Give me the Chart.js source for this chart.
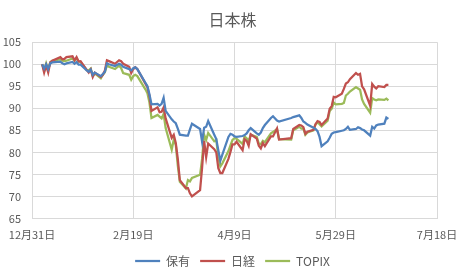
<!DOCTYPE html>
<html><head><meta charset="utf-8">
<script src="https://cdn.jsdelivr.net/npm/chart.js@4/dist/chart.umd.min.js"></script>
<style>html,body{margin:0;padding:0;background:#fff}</style>
</head><body>
<canvas id="c" width="462" height="269"></canvas>
<script>
// Dates (2020, M/D)
const dates = [
 "1/5","1/6","1/7","1/8","1/9","1/10","1/14","1/15","1/16","1/17","1/20","1/21","1/22","1/23","1/24","1/27","1/28","1/29","1/30","1/31",
 "2/3","2/4","2/5","2/6","2/7","2/10","2/12","2/13","2/14","2/17","2/18","2/19","2/20","2/21","2/25","2/26","2/27","2/28",
 "3/2","3/3","3/4","3/5","3/6","3/9","3/10","3/11","3/12","3/13","3/16","3/17","3/18","3/19","3/23","3/24","3/25","3/26","3/27","3/30","3/31",
 "4/1","4/2","4/3","4/6","4/7","4/8","4/9","4/10","4/13","4/14","4/15","4/16","4/17","4/20","4/21","4/22","4/23","4/24","4/27","4/28","4/30",
 "5/1","5/7","5/8","5/11","5/12","5/13","5/14","5/15","5/18","5/19","5/20","5/21","5/22","5/25","5/26","5/27","5/28","5/29",
 "6/1","6/2","6/3","6/4","6/5","6/8","6/9","6/10","6/11","6/12","6/15","6/16","6/17","6/18","6/19","6/22","6/23","6/24"
];
const holding = [
 100,99.0,100.0,98.9,100.2,100.4,100.6,100.2,100.0,100.2,100.5,100.1,100.5,99.9,99.9,98.6,98.3,98.8,97.6,98.1,
 97.3,97.8,98.3,100.2,100.0,99.6,100.1,99.9,99.4,98.9,98.6,99.1,99.3,98.9,95.8,95.0,93.2,90.9,
 91.0,90.6,91.0,92.4,89.4,87.5,87.0,86.6,85.4,84.0,83.8,83.8,85.2,86.5,85.3,82.4,85.6,85.8,87.1,84.0,83.0,
 80.5,78.1,79.5,83.5,84.2,84.0,83.6,83.5,83.7,83.9,84.3,85.0,85.5,84.3,84.0,84.5,85.5,86.2,87.8,88.2,87.2,
 87.0,87.8,88.0,88.4,87.8,87.0,86.7,86.3,85.6,85.3,84.8,83.5,81.4,82.5,83.3,84.2,84.5,84.6,
 84.9,85.0,85.3,85.8,85.1,85.3,85.7,85.5,85.2,85.0,83.8,85.8,85.4,86.1,86.3,86.5,87.9,87.6
];
const nikkei = [
 100,98.1,99.7,98.1,100.4,100.8,101.6,101.1,101.2,101.6,101.8,100.9,101.6,100.6,100.7,98.7,98.1,98.8,97.1,98.1,
 97.1,97.6,98.6,100.9,100.7,100.1,100.9,100.7,100.1,99.4,98.0,98.9,99.3,98.9,95.6,94.8,92.8,89.4,
 90.2,89.1,89.2,90.2,87.7,83.3,84.0,82.1,78.5,73.7,71.9,71.9,70.7,70.0,71.4,76.5,82.6,78.9,82.0,80.7,80.0,
 76.4,75.3,75.3,78.5,80.1,81.8,81.8,82.4,80.5,83.0,82.6,81.5,84.1,83.1,81.5,80.9,82.1,81.4,83.6,83.6,85.4,
 82.9,83.2,85.3,86.2,86.1,85.7,84.2,84.7,85.1,86.4,87.1,86.9,86.2,87.7,89.9,90.5,92.6,92.5,
 93.3,94.4,95.6,95.9,96.6,98.0,97.6,97.8,95.0,94.3,90.6,95.5,94.9,94.5,95.0,94.8,95.3,95.3
];
const topix = [
 100,98.6,100.2,98.8,100.4,100.8,101.1,100.8,100.7,100.8,101.3,100.8,101.4,100.6,100.5,98.7,98.6,99.0,97.3,97.9,
 96.8,97.6,98.2,99.8,99.4,98.9,99.7,99.1,98.0,97.6,96.5,97.3,97.6,97.3,94.3,93.4,91.3,87.8,
 88.5,88.1,87.7,88.7,85.5,80.6,82.9,81.7,77.0,73.3,71.8,73.7,73.4,74.2,74.9,78.5,84.0,82.8,84.4,82.5,82.8,
 79.0,76.8,77.5,80.3,81.6,82.8,83.2,83.1,81.9,83.6,83.2,82.6,84.0,83.5,82.0,81.8,82.6,82.3,84.3,84.6,85.3,
 83.0,82.9,85.0,85.8,85.4,85.4,84.0,84.5,85.0,86.3,86.8,86.4,85.9,87.2,89.4,89.9,91.3,90.9,
 91.0,91.2,92.9,93.3,93.8,94.8,94.5,94.2,92.0,91.0,89.0,92.3,92.0,91.8,92.0,91.9,92.2,91.8
];
const seriesNames = ["保有","日経","TOPIX"];
const titleText = "日本株";
const xTickDays = [0,50,100,150,200]; // days since 2019-12-31
const yTicks = [65,70,75,80,85,90,95,100,105];

const DAY = 86400000;
const base = Date.UTC(2019,11,31);
function dayOf(s){ const [m,d] = s.split("/").map(Number); return (Date.UTC(2020,m-1,d)-base)/DAY; }
function labelOf(v){ const dt = new Date(base + v*DAY); return (dt.getUTCMonth()+1)+"月"+dt.getUTCDate()+"日"; }
const xs = dates.map(dayOf);
const pts = arr => arr.map((v,i)=>({x:xs[i], y:v}));

const FONT = "'Noto Sans CJK JP','Noto Sans',sans-serif";
const TXT = "#595959";
const GRID = "#D9D9D9";
const colors = ["#4F81BD","#C0504D","#9BBB59"];

new Chart(document.getElementById("c"), {
  type: "line",
  data: {
    datasets: [holding, nikkei, topix].map((arr,i)=>({
      label: seriesNames[i], data: pts(arr), borderColor: colors[i], backgroundColor: colors[i],
      borderWidth: 2.25, pointRadius: 0, tension: 0, fill: false
    }))
  },
  options: {
    responsive: false, animation: false,
    layout: { padding: { left: 3, right: 0, top: 0, bottom: -8 } },
    plugins: {
      title: { display: true, text: titleText, color: TXT, font: { family: FONT, size: 16, weight: "normal" }, padding: { top: 10, bottom: 13 } },
      legend: { position: "bottom", labels: { usePointStyle: true, pointStyle: "line", pointStyleWidth: 25, boxHeight: 10, color: TXT, font: { family: FONT, size: 12 }, padding: 10 } },
      tooltip: { enabled: false }
    },
    scales: {
      x: {
        type: "linear", min: xTickDays[0], max: xTickDays[xTickDays.length-1],
        afterBuildTicks: s => { s.ticks = xTickDays.map(v=>({value:v})); },
        afterFit: s => { s.paddingLeft = 0; s.paddingRight = 25; s.height = 26.6; },
        ticks: { callback: v => labelOf(v), color: TXT, font: { family: FONT, size: 11 }, padding: 10, maxRotation: 0, autoSkip: false },
        grid: { color: GRID, drawTicks: false, lineWidth: 1 },
        border: { color: GRID }
      },
      y: {
        min: yTicks[0], max: yTicks[yTicks.length-1],
        afterBuildTicks: s => { s.ticks = yTicks.map(v=>({value:v})); },
        afterFit: s => { s.width = 29; },
        ticks: { color: TXT, font: { family: FONT, size: 11 }, padding: 11 },
        grid: { color: GRID, drawTicks: false, lineWidth: 1 },
        border: { display: false }
      }
    }
  }
});
</script>
</body></html>
